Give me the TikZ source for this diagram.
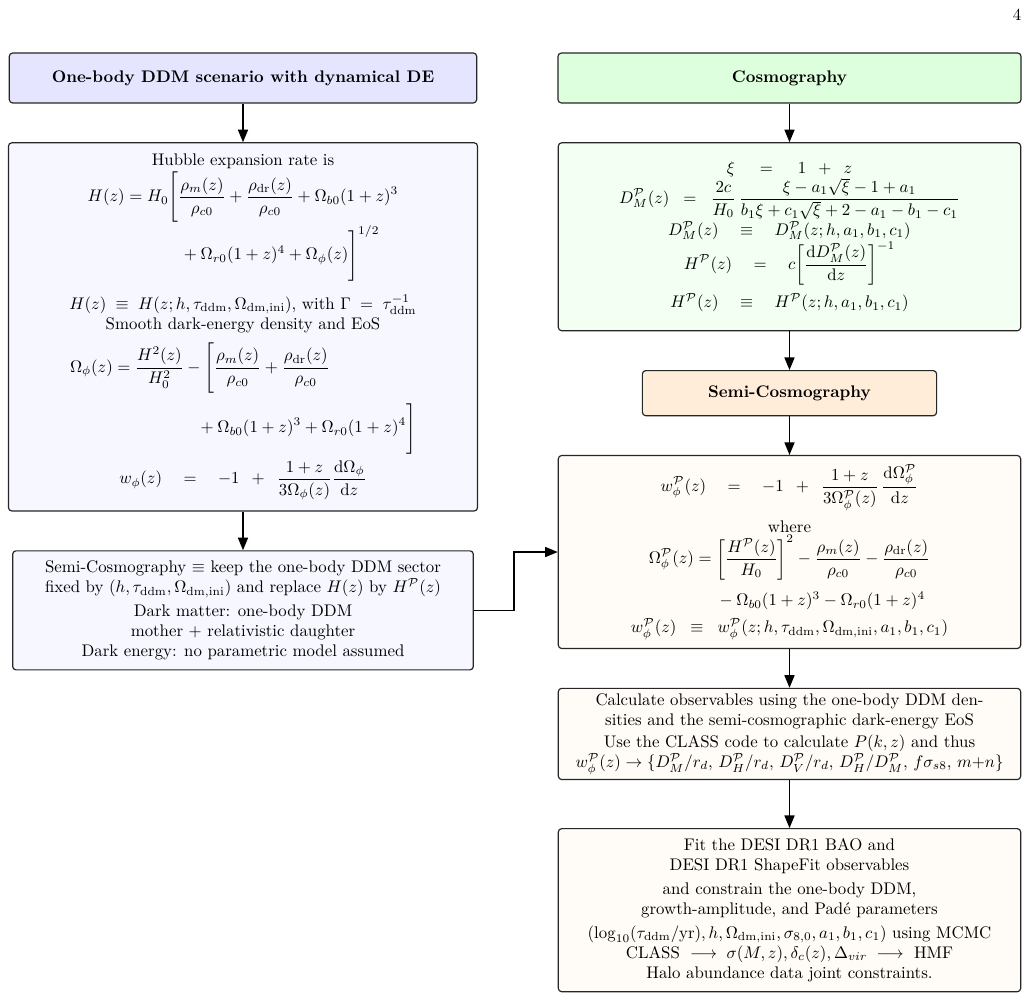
\documentclass[tikz,border=0pt]{standalone}
\usepackage{xcolor}
\usepackage{amsmath}
\usepackage{amssymb}
\usepackage{tikz}
\usetikzlibrary{arrows.meta, positioning}

\newcommand{\Pc}{\mathcal{P}}
\newcommand{\ddm}{\mathrm{ddm}}
\newcommand{\dmini}{\mathrm{dm,ini}}
\newcommand{\dr}{\mathrm{dr}}
\newcommand{\dd}{\mathrm{d}}

\begin{document}
\begin{tikzpicture}[
        x=0.5948pt, y=0.5948pt,
        % distances et styles
        node distance = 23pt,
        % titres des blocs
        head/.style = {
            rectangle,
            draw=black!85,
            line width=0.7pt,
            rounded corners=2pt,
            minimum height=29.7pt,
            align=center,
            font=\bfseries
        },
        % blocs avec les equations
        body/.style = {
            rectangle,
            draw=black!85,
            line width=0.7pt,
            rounded corners=2pt,
            inner xsep=4pt,
            inner ysep=3pt,
            text width=267pt,
            align=flush center
        },
        % fleches
        arrow/.style = {
            -{Triangle[length=7.5pt, width=6pt]},
            thick,
            draw=black
        }
    ]
        \useasboundingbox (0,0) rectangle (1029,999);

        % numero de page
        \node (pagenum) at (1017,984) {4};

        % 1. Colonne de gauche
        \node (ddmhead) [head, fill=blue!10, minimum width=278pt] at (243,921)
            {One-body DDM scenario with dynamical DE};
        \node (hubble) [body, fill=blue!3, text width=271pt, minimum height=219pt, below=of ddmhead] {
            Hubble expansion rate is\\[1pt]
            $\displaystyle\begin{aligned}
                H(z) &= H_0\Biggl[\frac{\rho_m(z)}{\rho_{c0}}+\frac{\rho_{\dr}(z)}{\rho_{c0}}+\Omega_{b0}(1+z)^3\\[-2pt]
                &\hspace{33pt}{}+\Omega_{r0}(1+z)^4+\Omega_\phi(z)\Biggr]^{1/2}
            \end{aligned}$\\[7pt]
            $H(z)\;\equiv\;H(z;h,\tau_{\ddm},\Omega_{\dmini})$, with $\Gamma\;=\;\tau_{\ddm}^{-1}$\\
            Smooth dark-energy density and EoS\\[5pt]
            $\displaystyle\begin{aligned}
                \Omega_\phi(z) &= \frac{H^2(z)}{H_0^2}-\Biggl[\frac{\rho_m(z)}{\rho_{c0}}+\frac{\rho_{\dr}(z)}{\rho_{c0}}\\[2pt]
                &\hspace{50pt}{}+\Omega_{b0}(1+z)^3+\Omega_{r0}(1+z)^4\Biggr]
            \end{aligned}$\\[3pt]
            $\displaystyle w_\phi(z)\quad=\quad-1\enspace+\enspace\frac{1+z}{3\Omega_\phi(z)}\frac{\dd\Omega_\phi}{\dd z}$
        };
        \node (semibox) [body, fill=blue!3, text width=266pt, minimum height=70.8pt, below=of hubble] {
            Semi-Cosmography $\equiv$ keep the one-body DDM sector\\
            fixed by $(h,\tau_{\ddm},\Omega_{\dmini})$ and replace $H(z)$ by $H^{\Pc}(z)$\\[2pt]
            Dark matter: one-body DDM\\
            mother $+$ relativistic daughter\\
            Dark energy: no parametric model assumed
        };

        % 2. Colonne de droite
        \node (cosmohead) [head, fill=green!13, minimum width=275.4pt] at (789.5,921) {Cosmography};
        \node (pade) [body, fill=green!5, minimum height=111.8pt, below=of cosmohead] {
            $\xi\hspace{12pt}=\hspace{12pt}1\enspace+\enspace z$\\
            $\displaystyle D^{\Pc}_M(z)\;\;=\;\;\frac{2c}{H_0}\,\frac{\xi-a_1\sqrt{\xi}-1+a_1}{b_1\xi+c_1\sqrt{\xi}+2-a_1-b_1-c_1}$\\
            $D^{\Pc}_M(z)\quad\equiv\quad D^{\Pc}_M(z;h,a_1,b_1,c_1)$\\
            $\displaystyle H^{\Pc}(z)\quad=\quad c\biggl[\frac{\dd D^{\Pc}_M(z)}{\dd z}\biggr]^{-1}$\\[4pt]
            $H^{\Pc}(z)\quad\equiv\quad H^{\Pc}(z;h,a_1,b_1,c_1)$
        };
        \node (semihead) [head, fill=orange!15, minimum width=175pt, minimum height=26.8pt, below=of pade]
            {Semi-Cosmography};
        \node (eos) [body, fill=orange!3, minimum height=114.8pt, below=of semihead] {
            $\displaystyle w^{\Pc}_\phi(z)\quad=\quad-1\enspace+\enspace\frac{1+z}{3\Omega^{\Pc}_\phi(z)}\,\frac{\dd\Omega^{\Pc}_\phi}{\dd z}$\\[5pt]
            where\\
            $\displaystyle\begin{aligned}
                \Omega^{\Pc}_\phi(z) &= \left[\frac{H^{\Pc}(z)}{H_0}\right]^2-\frac{\rho_m(z)}{\rho_{c0}}-\frac{\rho_{\dr}(z)}{\rho_{c0}}\\[3pt]
                &\hspace{13pt}{}-\Omega_{b0}(1+z)^3-\Omega_{r0}(1+z)^4
            \end{aligned}$\\[3pt]
            $w^{\Pc}_\phi(z)\;\;\equiv\;\;w^{\Pc}_\phi(z;h,\tau_{\ddm},\Omega_{\dmini},a_1,b_1,c_1)$
        };
        \node (obs) [body, fill=orange!3, minimum height=54pt, below=of eos] {
            Calculate observables using the one-body DDM den-\\
            sities and the semi-cosmographic dark-energy EoS\\[1pt]
            Use the CLASS code to calculate $P(k,z)$ and thus\\
            $w^{\Pc}_\phi(z)\to\{D^{\Pc}_M/r_d,\,D^{\Pc}_H/r_d,\,D^{\Pc}_V/r_d,\,D^{\Pc}_H/D^{\Pc}_M,\,f\sigma_{s8},\,m{+}n\}$
        };
        \node (fit) [body, fill=orange!3, minimum height=97pt, below=28.5pt of obs] {
            Fit the DESI DR1 BAO and\\
            DESI DR1 ShapeFit observables\\[2pt]
            and constrain the one-body DDM,\\
            growth-amplitude, and Pad\'e parameters\\[2pt]
            $(\log_{10}(\tau_{\ddm}/\mathrm{yr}),h,\Omega_{\dmini},\sigma_{8,0},a_1,b_1,c_1)$ using MCMC\\
            CLASS $\;\longrightarrow\;\sigma(M,z),\delta_c(z),\Delta_{vir}\;\longrightarrow\;$ HMF\\
            Halo abundance data joint constraints.
        };

        % 3. Fleches
        \draw [arrow] (ddmhead) -- (hubble);
        \draw [arrow] (hubble) -- (semibox);
        \draw [arrow] (cosmohead) -- (pade);
        \draw [arrow] (pade) -- (semihead);
        \draw [arrow] (semihead) -- (eos);
        \draw [arrow] (eos) -- (obs);
        \draw [arrow] (obs) -- (fit);
        \draw [arrow] (semibox.east) -- ++(23.8pt,0) |- (eos.west);

    \end{tikzpicture}
\end{document}
